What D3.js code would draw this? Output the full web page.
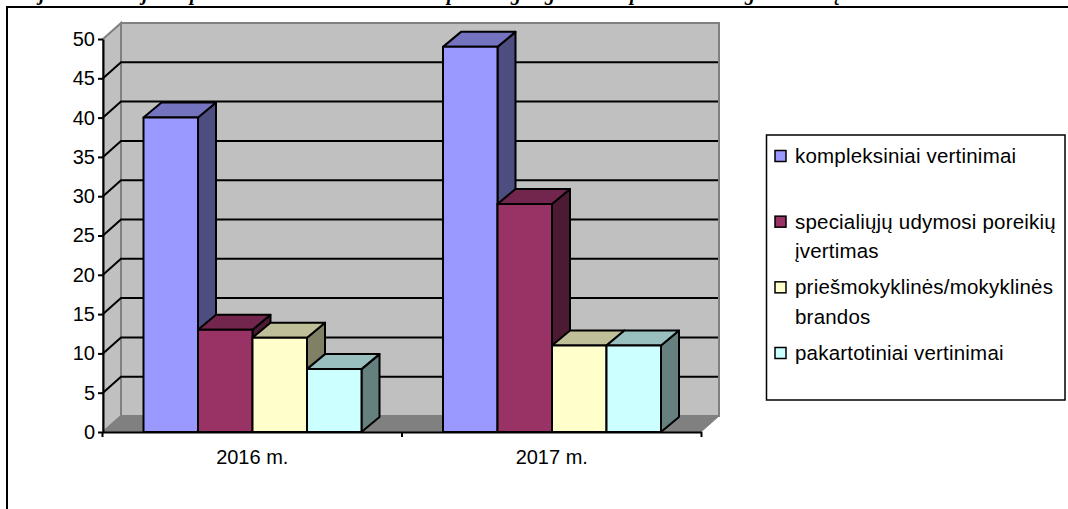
<!DOCTYPE html>
<html>
<head>
<meta charset="utf-8">
<script src="https://cdn.jsdelivr.net/npm/d3@7"></script>
<style>
    html, body { margin: 0; padding: 0; background: #fff; overflow: hidden; }
    text { font-family: "Liberation Sans", Arial, sans-serif; fill: #000; }
</style>
</head>
<body>
<div id="chart"></div>
<script>
//Data
const categories = ['2016 m.', '2017 m.'];
const kompleksiniai = [40, 49];
const specialiuju = [13, 29];
const priesmokyklines = [12, 11];
const pakartotiniai = [8, 11];
const yTicks = [0, 5, 10, 15, 20, 25, 30, 35, 40, 45, 50];
const legendLabels = [
    ['kompleksiniai vertinimai'],
    ['specialiųjų udymosi poreikių', 'įvertimas'],
    ['priešmokyklinės/mokyklinės', 'brandos'],
    ['pakartotiniai vertinimai']
];
const seriesValues = [kompleksiniai, specialiuju, priesmokyklines, pakartotiniai];
const seriesColors = ['#9999ff', '#993366', '#ffffcc', '#ccffff'];
//the heading is cropped by the picture, only these descenders can be read
const titleLetters = ['j', 'j', 'p', 'p', 'g', 'g', 'p', 'g', 'į'];
const titleLetterX = [42, 145, 195, 452, 516, 550, 635, 750, 838];

//Layout
const svg_width = 1068, svg_height = 509;
const depthX = 18, depthY = 16;
const barDepthX = 18, barDepthY = 15;
const chartLeft = 103, chartRight = 701, chartBottom = 432, chartTop = 39;

const shade = (c, k) => {
    const r = d3.rgb(c);
    return d3.rgb(r.r * k, r.g * k, r.b * k).formatHex();
};
const poly = pts => pts.map(p => p.join(',')).join(' ');

const svg = d3.select('#chart').append('svg')
    .attr('width', svg_width).attr('height', svg_height)
    .style('display', 'block');

//Title fragments and frame
svg.selectAll('.title-letter').data(titleLetters).enter()
    .append('text')
    .attr('class', 'title-letter')
    .attr('x', (d, i) => titleLetterX[i])
    .attr('y', 0)
    .attr('text-anchor', 'middle')
    .style('font-family', '"Liberation Serif", serif')
    .style('font-weight', 'bold')
    .style('font-style', 'italic')
    .style('font-size', '20px')
    .text(d => d);
svg.append('path')
    .attr('d', `M7,${svg_height}V7H${svg_width}`)
    .attr('fill', 'none').attr('stroke', '#000').attr('stroke-width', 2);

//Scales
const yScale = d3.scaleLinear().domain([0, 50]).range([chartBottom, chartTop]);
const xScale = d3.scaleBand().domain(categories).range([chartLeft - 0.5, chartRight + 0.5]);
const seriesScale = d3.scaleBand().domain(d3.range(seriesValues.length)).range([41, 259]);

//Walls
const backTop = yScale(50) - depthY;
const backBottom = chartBottom - depthY;
svg.append('polygon')
    .attr('points', poly([[chartLeft + depthX, backTop], [chartRight + depthX, backTop], [chartRight + depthX, backBottom], [chartLeft + depthX, backBottom]]))
    .attr('fill', '#c0c0c0').attr('stroke', '#808080').attr('stroke-width', 2);
svg.append('polygon')
    .attr('points', poly([[chartLeft, chartTop], [chartLeft + depthX, backTop], [chartLeft + depthX, backBottom], [chartLeft, chartBottom]]))
    .attr('fill', '#c0c0c0').attr('stroke', '#808080').attr('stroke-width', 2);
svg.append('polygon')
    .attr('points', poly([[chartLeft, chartBottom], [chartLeft + depthX, backBottom], [chartRight + depthX, backBottom], [chartRight, chartBottom]]))
    .attr('fill', '#808080').attr('stroke', '#808080').attr('stroke-width', 1);

//Gridlines, back wall and side wall
const grid = yTicks.filter(d => d > 0 && d < 50);
svg.selectAll('.grid').data(grid).enter()
    .append('polyline')
    .attr('class', 'grid')
    .attr('points', d => poly([[chartLeft, yScale(d)], [chartLeft + depthX, yScale(d) - depthY], [chartRight + depthX - 1, yScale(d) - depthY]]))
    .attr('fill', 'none').attr('stroke', '#000').attr('stroke-width', 2);

//Bars
const barGroups = svg.selectAll('.category').data(categories).enter()
    .append('g').attr('class', 'category')
    .attr('transform', d => `translate(${xScale(d)},0)`);

barGroups.each(function (cat, ci) {
    const g = d3.select(this);
    seriesValues.forEach((values, si) => {
        const x0 = seriesScale(si);
        const x1 = x0 + seriesScale.bandwidth();
        const y0 = yScale(values[ci]);
        const color = seriesColors[si];
        const bar = g.append('g')
            .attr('stroke', '#000').attr('stroke-width', 2).attr('stroke-linejoin', 'round');
        bar.append('polygon')
            .attr('points', poly([[x1, y0], [x1 + barDepthX, y0 - barDepthY], [x1 + barDepthX, chartBottom - barDepthY], [x1, chartBottom]]))
            .attr('fill', shade(color, 0.5));
        bar.append('polygon')
            .attr('points', poly([[x0, y0], [x0 + barDepthX, y0 - barDepthY], [x1 + barDepthX, y0 - barDepthY], [x1, y0]]))
            .attr('fill', shade(color, 0.75));
        bar.append('rect')
            .attr('x', x0).attr('y', y0)
            .attr('width', x1 - x0).attr('height', chartBottom - y0)
            .attr('fill', color);
    });
});

//Axes
const yAxis = d3.axisLeft(yScale).tickValues(yTicks).tickSizeInner(5).tickSizeOuter(0).tickPadding(3);
const yAxisDraw = svg.append('g').attr('class', 'y axis')
    .attr('transform', `translate(${chartLeft},0)`)
    .call(yAxis);
const xAxis = d3.axisBottom(xScale).tickSize(0).tickPadding(18);
const xAxisDraw = svg.append('g').attr('class', 'x axis')
    .attr('transform', `translate(0,${chartBottom})`)
    .call(xAxis);
[yAxisDraw, xAxisDraw].forEach(a => {
    a.selectAll('path, line').attr('stroke', '#000').attr('stroke-width', 2);
    a.selectAll('text')
        .style('font-family', '"Liberation Sans", Arial, sans-serif')
        .style('font-size', '20px')
        .attr('fill', '#000');
});
xAxisDraw.selectAll('.edge').data([xScale(categories[0]), xScale(categories[1]), xScale.range()[1]]).enter()
    .append('line')
    .attr('class', 'edge')
    .attr('x1', d => d).attr('x2', d => d)
    .attr('y1', 0).attr('y2', 5)
    .attr('stroke', '#000').attr('stroke-width', 2);

//Legend
svg.append('rect')
    .attr('x', 766.5).attr('y', 135)
    .attr('width', 298.5).attr('height', 265)
    .attr('fill', '#fff').attr('stroke', '#000').attr('stroke-width', 1.5);
const legendY = d3.scalePoint().domain(d3.range(legendLabels.length)).range([156, 353]);
const legendRows = svg.selectAll('.legend-row').data(legendLabels).enter()
    .append('g').attr('class', 'legend-row')
    .attr('transform', (d, i) => `translate(775,${legendY(i)})`);
legendRows.append('rect')
    .attr('x', 0).attr('y', -5.5)
    .attr('width', 11).attr('height', 11)
    .attr('fill', (d, i) => seriesColors[i])
    .attr('stroke', '#000').attr('stroke-width', 1.5);
legendRows.each(function (lines) {
    d3.select(this).selectAll('text').data(lines).enter()
        .append('text')
        .attr('x', 20)
        .attr('y', (d, i) => 7 + i * 29.5)
        .style('font-size', '20.5px')
        .style('letter-spacing', '0.2px')
        .text(d => d);
});
</script>
</body>
</html>
